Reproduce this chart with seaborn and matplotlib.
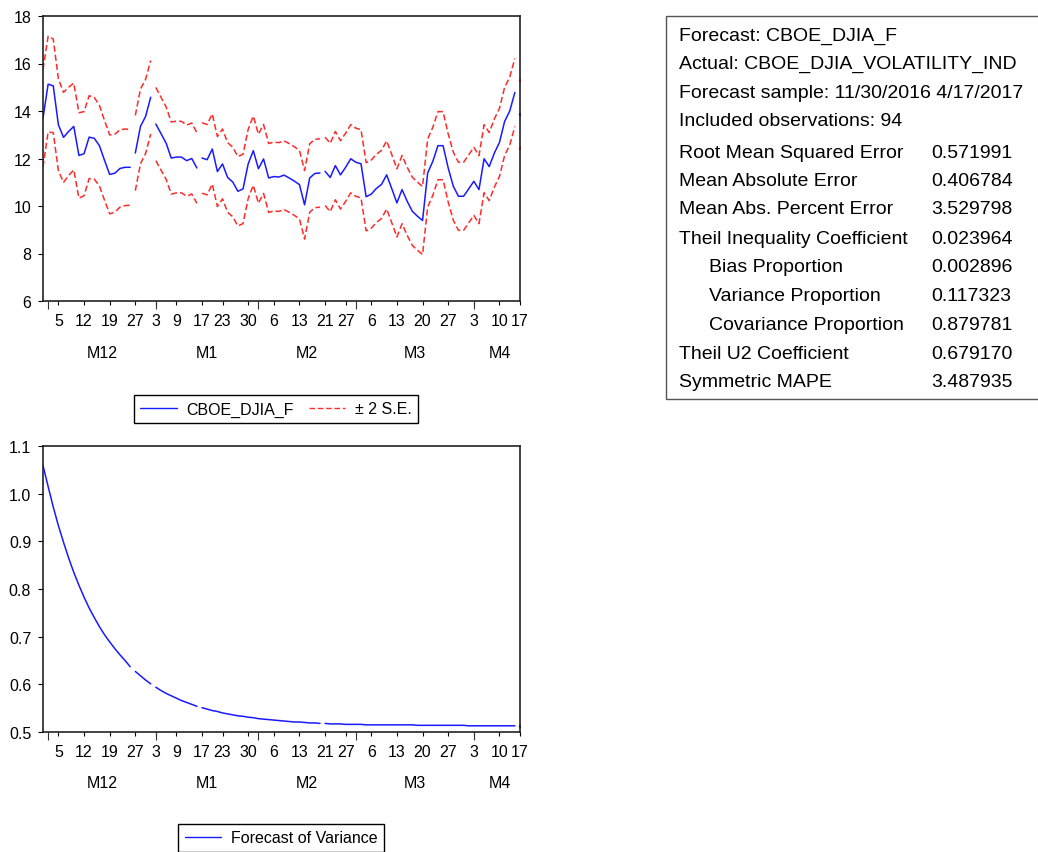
import matplotlib
matplotlib.use('Agg')

import matplotlib.pyplot as plt
from matplotlib.lines import Line2D
from matplotlib.patches import Rectangle
import numpy as np
import pandas as pd
import seaborn as sns

# trading days of the forecast sample (market holidays are not in the workfile)
holidays = ['2016-12-26', '2017-01-02', '2017-01-16', '2017-02-20', '2017-04-14']
dates = pd.bdate_range('2016-11-30', '2017-04-17')
dates = dates[~dates.isin(pd.to_datetime(holidays))]

# CBOE_DJIA_F
forecast = [13.70, 15.13, 15.06, 13.42, 12.89, 13.14, 13.35, 12.13, 12.20, 12.90,
            12.85, 12.54, 11.92, 11.33, 11.38, 11.58, 11.63, 11.63, 12.23, 13.35,
            13.77, 14.58, 13.45, 13.05, 12.65, 12.02, 12.06, 12.06, 11.91, 12.00,
            11.60, 12.02, 11.95, 12.40, 11.45, 11.77, 11.20, 11.01, 10.62, 10.72,
            11.77, 12.33, 11.57, 11.98, 11.18, 11.24, 11.22, 11.30, 11.18, 11.05,
            10.90, 10.05, 11.18, 11.37, 11.39, 11.46, 11.20, 11.70, 11.31, 11.63,
            11.99, 11.84, 11.78, 10.39, 10.50, 10.74, 10.91, 11.31, 10.73, 10.13,
            10.69, 10.20, 9.78, 9.57, 9.39, 11.39, 11.88, 12.54, 12.54, 11.60,
            10.83, 10.41, 10.41, 10.72, 11.04, 10.69, 11.99, 11.66, 12.23, 12.68,
            13.56, 14.00, 14.78, 13.87]

# forecast of variance
variance = [1.059, 1.015, 0.972, 0.933, 0.898, 0.865, 0.835, 0.808, 0.783, 0.760,
            0.740, 0.721, 0.704, 0.689, 0.675, 0.662, 0.650, 0.637, 0.627, 0.618,
            0.609, 0.601, 0.594, 0.587, 0.581, 0.576, 0.571, 0.566, 0.562, 0.558,
            0.554, 0.551, 0.548, 0.545, 0.543, 0.540, 0.538, 0.536, 0.534, 0.533,
            0.531, 0.530, 0.528, 0.527, 0.526, 0.525, 0.524, 0.523, 0.522, 0.521,
            0.521, 0.520, 0.519, 0.519, 0.518, 0.518, 0.517, 0.517, 0.517, 0.516,
            0.516, 0.516, 0.516, 0.515, 0.515, 0.515, 0.515, 0.515, 0.515, 0.515,
            0.515, 0.515, 0.515, 0.514, 0.514, 0.514, 0.514, 0.514, 0.514, 0.514,
            0.514, 0.514, 0.514, 0.513, 0.513, 0.513, 0.513, 0.513, 0.513, 0.513,
            0.513, 0.513, 0.513, 0.513]

header_lines = ['Forecast: CBOE_DJIA_F',
                'Actual: CBOE_DJIA_VOLATILITY_IND',
                'Forecast sample: 11/30/2016 4/17/2017',
                'Included observations: 94']
stat_names = ['Root Mean Squared Error', 'Mean Absolute Error',
              'Mean Abs. Percent Error', 'Theil Inequality Coefficient',
              '   Bias Proportion', '   Variance Proportion',
              '   Covariance Proportion', 'Theil U2 Coefficient', 'Symmetric MAPE']
stat_values = ['0.571991', '0.406784', '3.529798', '0.023964', '0.002896',
               '0.117323', '0.879781', '0.679170', '3.487935']

BLUE = '#1a1aff'
RED = '#ff2a2a'

sns.set_style('ticks')
plt.rcParams['font.family'] = ['Liberation Sans', 'DejaVu Sans']
plt.rcParams['text.color'] = 'black'

n = len(dates)
d = dates.values.astype('datetime64[D]')
gap = np.r_[False, np.busday_count(d[:-1], d[1:]) > 1]
df = pd.DataFrame({'obs': np.arange(n), 'forecast': forecast,
                   'variance': variance, 'seg': np.cumsum(gap)})
se2 = 2 * np.sqrt(df['variance'])
df['upper'] = df['forecast'] + se2
df['lower'] = df['forecast'] - se2
seg_size = df['seg'].map(df['seg'].value_counts())
single = df[seg_size == 1]

week_start = [i for i in range(1, n)
              if dates[i].isocalendar().week != dates[i - 1].isocalendar().week]
month_start = [i for i in range(1, n) if dates[i].month != dates[i - 1].month]
month_pos = []
month_lab = []
for s, e in zip(month_start, month_start[1:] + [n]):
    month_pos.append((s + e) / 2)
    month_lab.append('M%d' % dates[s].month)

fig = plt.figure(figsize=(10.38, 8.53), dpi=100, facecolor='white')
W, H = 1038, 853
ax1 = fig.add_axes([43 / W, 1 - 302 / H, 477 / W, 285 / H])
ax2 = fig.add_axes([43 / W, 1 - 733 / H, 477 / W, 286 / H])

dash = (0, (4, 2))
for col, color, ls in [('upper', RED, dash), ('lower', RED, dash), ('forecast', BLUE, '-')]:
    sns.lineplot(data=df, x='obs', y=col, units='seg', estimator=None,
                 color=color, lw=1.1, linestyle=ls, ax=ax1, legend=False)
    sns.scatterplot(data=single, x='obs', y=col, color=color, s=6,
                    linewidth=0, ax=ax1, legend=False)

sns.lineplot(data=df, x='obs', y='variance', units='seg', estimator=None,
             color=BLUE, lw=1.1, ax=ax2, legend=False)
sns.scatterplot(data=single, x='obs', y='variance', color=BLUE, s=6,
                linewidth=0, ax=ax2, legend=False)

ax1.set_ylim(6, 18)
ax1.set_yticks(range(6, 19, 2))
ax2.set_ylim(0.5, 1.1)
yt = np.round(np.arange(0.5, 1.11, 0.1), 1)
ax2.set_yticks(yt)
ax2.set_yticklabels(['%.1f' % v for v in yt])

for ax, month_y in [(ax1, -51 / 285), (ax2, -50 / 286)]:
    ax.set_xlim(0, n - 1)
    ax.set_xlabel('')
    ax.set_ylabel('')
    ax.set_xticks(week_start)
    ax.set_xticklabels([str(dates[i].day) for i in week_start])
    ax.set_xticks(month_start, minor=True)
    ax.xaxis.remove_overlapping_locs = False
    ax.tick_params(axis='x', which='major', length=3, width=0.8, pad=5.5,
                   labelsize=11.5, colors='black', labelcolor='black')
    ax.tick_params(axis='x', which='minor', length=5.5, width=0.8, colors='#333333')
    ax.tick_params(axis='y', which='major', length=3.5, width=0.8, pad=5,
                   labelsize=11.5, colors='black', labelcolor='black')
    for sp in ax.spines.values():
        sp.set_visible(True)
        sp.set_color('#222222')
        sp.set_linewidth(1.2)
    for x, lab in zip(month_pos, month_lab):
        ax.text(x, month_y, lab, transform=ax.get_xaxis_transform(),
                ha='center', va='center', fontsize=11.5, color='black')

# legends under each panel
h1 = [Line2D([], [], color=BLUE, lw=1), Line2D([], [], color=RED, lw=1, linestyle=dash)]
fig.legend(h1, ['CBOE_DJIA_F', '\u00b1 2 S.E.'], loc='center', ncol=2,
           bbox_to_anchor=(276 / W, 1 - 410 / H), fontsize=11.5, frameon=True,
           fancybox=False, edgecolor='black', framealpha=1, handlelength=2.3,
           handletextpad=0.6, columnspacing=0.9, borderpad=0.4)
fig.legend([Line2D([], [], color=BLUE, lw=1)], ['Forecast of Variance'], loc='center',
           bbox_to_anchor=(281 / W, 1 - 839 / H), fontsize=11.5, frameon=True,
           fancybox=False, edgecolor='black', framealpha=1, handlelength=2.3,
           handletextpad=0.6, borderpad=0.4)

# forecast evaluation table
fig.add_artist(Rectangle((666 / W, 1 - 400 / H), 380 / W, 383 / H,
                         transform=fig.transFigure, fill=False,
                         edgecolor='#555555', lw=1))
row_y = [36, 64, 93, 122, 153, 181, 210, 240, 268, 297, 326, 355, 383]
for y, txt in zip(row_y[:4], header_lines):
    fig.text(679 / W, 1 - y / H, txt, ha='left', va='center', fontsize=14)
for y, name, val in zip(row_y[4:], stat_names, stat_values):
    x0 = 709 if name.startswith(' ') else 679
    fig.text(x0 / W, 1 - y / H, name.strip(), ha='left', va='center', fontsize=14)
    fig.text(931 / W, 1 - y / H, val, ha='left', va='center', fontsize=14)

fig.savefig('out.png', dpi=100, facecolor='white')
